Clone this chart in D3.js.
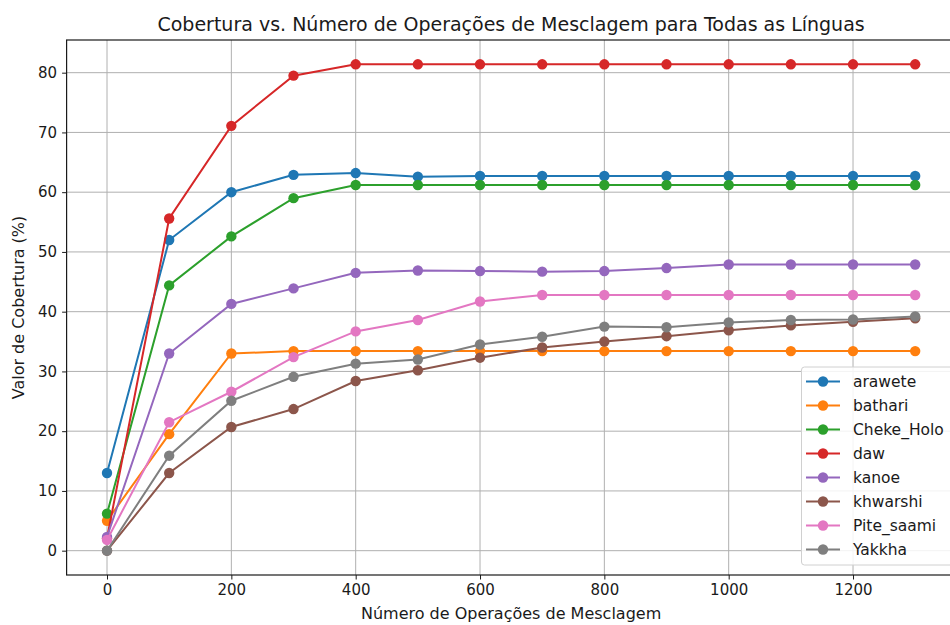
<!DOCTYPE html>
<html>
<head>
<meta charset="utf-8">
<script src="https://cdn.jsdelivr.net/npm/d3@7"></script>
<style>
  html, body { margin: 0; padding: 0; background: #fff; }
  svg { display: block; font-family: "DejaVu Sans", sans-serif; }
</style>
</head>
<body>
<svg id="chart" width="950" height="625"></svg>
<script>
const merges = [0, 100, 200, 300, 400, 500, 600, 700, 800, 900, 1000, 1100, 1200, 1300];
const languages = ["arawete", "bathari", "Cheke_Holo", "daw", "kanoe", "khwarshi", "Pite_saami", "Yakkha"];
const arawete    = [13.0, 52.0, 60.0, 62.9, 63.2, 62.6, 62.7, 62.7, 62.7, 62.7, 62.7, 62.7, 62.7, 62.7];
const bathari    = [5.0, 19.5, 33.0, 33.4, 33.4, 33.4, 33.4, 33.4, 33.4, 33.4, 33.4, 33.4, 33.4, 33.4];
const cheke_holo = [6.2, 44.4, 52.6, 59.0, 61.2, 61.2, 61.2, 61.2, 61.2, 61.2, 61.2, 61.2, 61.2, 61.2];
const daw        = [2.1, 55.6, 71.1, 79.5, 81.4, 81.4, 81.4, 81.4, 81.4, 81.4, 81.4, 81.4, 81.4, 81.4];
const kanoe      = [2.3, 33.0, 41.3, 43.9, 46.5, 46.9, 46.8, 46.7, 46.8, 47.3, 47.9, 47.9, 47.9, 47.9];
const khwarshi   = [0.0, 13.0, 20.7, 23.7, 28.4, 30.2, 32.3, 34.0, 35.0, 35.9, 36.9, 37.7, 38.3, 38.9];
const pite_saami = [1.8, 21.5, 26.6, 32.4, 36.7, 38.6, 41.7, 42.8, 42.8, 42.8, 42.8, 42.8, 42.8, 42.8];
const yakkha     = [0.0, 15.9, 25.1, 29.1, 31.3, 32.0, 34.5, 35.8, 37.5, 37.4, 38.2, 38.6, 38.7, 39.2];
const xTicks = [0, 200, 400, 600, 800, 1000, 1200];
const yTicks = [0, 10, 20, 30, 40, 50, 60, 70, 80];
const colors = ["#1f77b4", "#ff7f0e", "#2ca02c", "#d62728", "#9467bd", "#8c564b", "#e377c2", "#7f7f7f"];

const seriesValues = [arawete, bathari, cheke_holo, daw, kanoe, khwarshi, pite_saami, yakkha];
const series = languages.map((name, i) => ({
  name, color: colors[i],
  points: merges.map((m, j) => ({ x: m, y: seriesValues[i][j] }))
}));

const svg = d3.select("#chart");
const mLeft = 66.6, mRight = 955.6, mTop = 40, mBottom = 575;

const xMin = d3.min(merges), xMax = d3.max(merges);
const xPad = (xMax - xMin) * 0.05;
const allY = seriesValues.flat();
const yMinD = d3.min(allY), yMaxD = d3.max(allY);
const yPad = (yMaxD - yMinD) * 0.05;

const x = d3.scaleLinear().domain([xMin - xPad, xMax + xPad]).range([mLeft, mRight]);
const y = d3.scaleLinear().domain([yMinD - yPad, yMaxD + yPad]).range([mBottom, mTop]);

const clipId = "plotclip";
svg.append("defs").append("clipPath").attr("id", clipId)
  .append("rect").attr("x", mLeft).attr("y", mTop).attr("width", mRight - mLeft).attr("height", mBottom - mTop);

// Grid
const grid = svg.append("g").attr("clip-path", `url(#${clipId})`);
grid.selectAll(".gx").data(xTicks).join("line")
  .attr("x1", d => x(d)).attr("x2", d => x(d)).attr("y1", mTop).attr("y2", mBottom)
  .attr("stroke", "#b0b0b0").attr("stroke-width", 1);
grid.selectAll(".gy").data(yTicks).join("line")
  .attr("y1", d => y(d)).attr("y2", d => y(d)).attr("x1", mLeft).attr("x2", mRight)
  .attr("stroke", "#b0b0b0").attr("stroke-width", 1);

// Lines and markers
const line = d3.line().x(d => x(d.x)).y(d => y(d.y));
const plot = svg.append("g").attr("clip-path", `url(#${clipId})`);
series.forEach(s => {
  const g = plot.append("g");
  g.append("path").datum(s.points).attr("d", line)
    .attr("fill", "none").attr("stroke", s.color).attr("stroke-width", 2);
  g.selectAll("circle").data(s.points).join("circle")
    .attr("cx", d => x(d.x)).attr("cy", d => y(d.y)).attr("r", 5.2)
    .attr("fill", s.color);
});

// Axes
const xAxis = d3.axisBottom(x).tickValues(xTicks).tickSize(4.5).tickPadding(5).tickFormat(d3.format("d"));
const yAxis = d3.axisLeft(y).tickValues(yTicks).tickSize(4.5).tickPadding(5).tickFormat(d3.format("d"));
const gx = svg.append("g").attr("transform", `translate(0,${mBottom})`).call(xAxis);
const gy = svg.append("g").attr("transform", `translate(${mLeft},0)`).call(yAxis);
[gx, gy].forEach(g => {
  g.select(".domain").remove();
  g.selectAll("text").attr("font-size", 15).attr("fill", "#1a1a1a").attr("font-family", "DejaVu Sans");
  g.selectAll("line").attr("stroke", "#1a1a1a");
});

// Spines
svg.append("rect").attr("x", mLeft).attr("y", mTop).attr("width", mRight - mLeft).attr("height", mBottom - mTop)
  .attr("fill", "none").attr("stroke", "#1a1a1a").attr("stroke-width", 1.2);

// Title and labels
svg.append("text").attr("x", (mLeft + mRight) / 2).attr("y", 31).attr("text-anchor", "middle")
  .attr("font-size", 19).attr("fill", "#1a1a1a")
  .text("Cobertura vs. Número de Operações de Mesclagem para Todas as Línguas");
svg.append("text").attr("x", (mLeft + mRight) / 2).attr("y", 619).attr("text-anchor", "middle")
  .attr("font-size", 16).attr("fill", "#1a1a1a")
  .text("Número de Operações de Mesclagem");
svg.append("text").attr("transform", `translate(24,${(mTop + mBottom) / 2}) rotate(-90)`)
  .attr("text-anchor", "middle").attr("font-size", 16).attr("fill", "#1a1a1a")
  .text("Valor de Cobertura (%)");

// Legend
const lg = svg.append("g");
lg.append("rect").attr("x", 801.5).attr("y", 367).attr("width", 160).attr("height", 198)
  .attr("rx", 3).attr("fill", "#fff").attr("fill-opacity", 0.85)
  .attr("stroke", "#d0d0d0").attr("stroke-width", 1);
series.forEach((s, i) => {
  const yy = 381.5 + i * 24;
  lg.append("line").attr("x1", 806).attr("x2", 840).attr("y1", yy).attr("y2", yy)
    .attr("stroke", s.color).attr("stroke-width", 2);
  lg.append("circle").attr("cx", 823).attr("cy", yy).attr("r", 5.2).attr("fill", s.color);
  lg.append("text").attr("x", 853).attr("y", yy).attr("dy", "0.35em")
    .attr("font-size", 15.5).attr("fill", "#1a1a1a").text(s.name);
});
</script>
</body>
</html>
